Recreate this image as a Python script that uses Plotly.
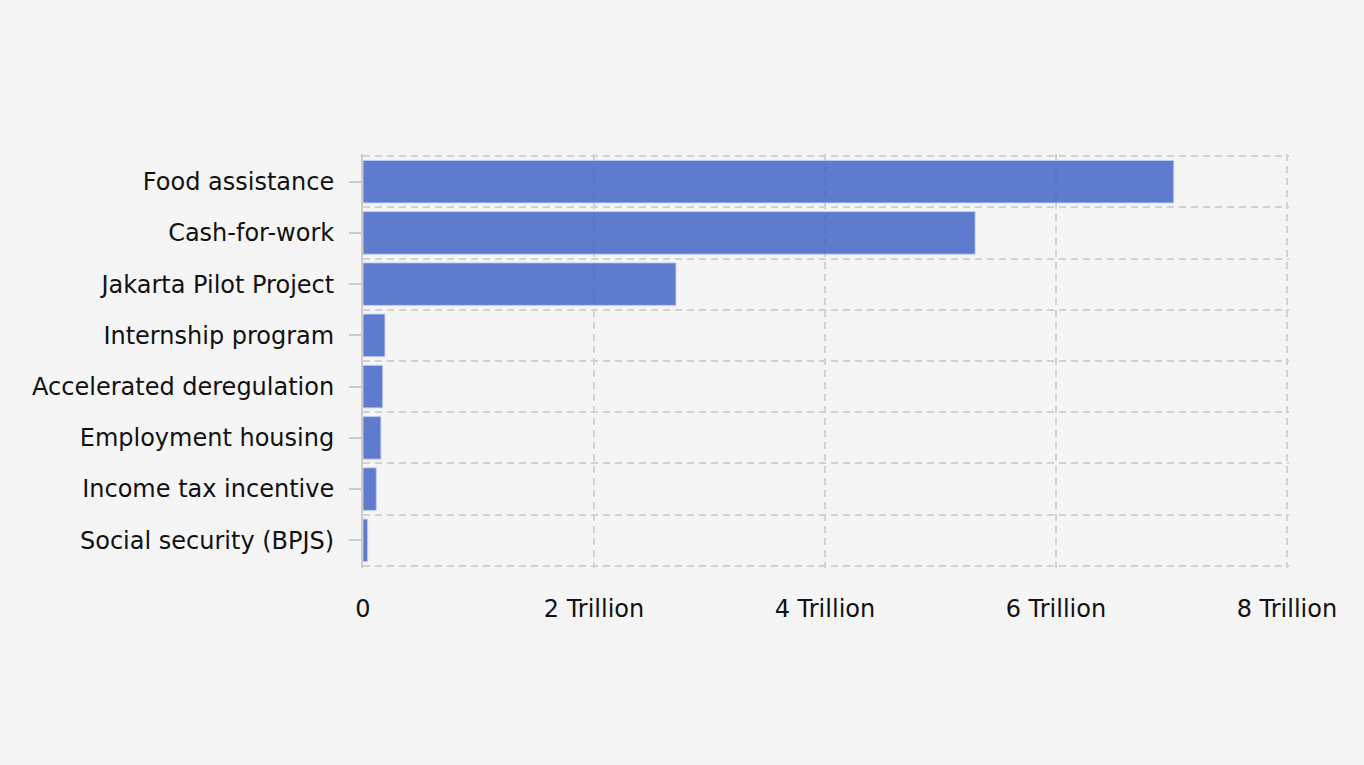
import plotly.graph_objects as go

categories = ["Food assistance", "Cash-for-work", "Jakarta Pilot Project", "Internship program",
              "Accelerated deregulation", "Employment housing", "Income tax incentive",
              "Social security (BPJS)"]
values = [7.02e12, 5.30e12, 2.71e12, 0.19e12, 0.17e12, 0.155e12, 0.115e12, 0.04e12]
x_tickvals = [0, 2e12, 4e12, 6e12, 8e12]
x_ticktext = ["0", "2 Trillion", "4 Trillion", "6 Trillion", "8 Trillion"]

n = len(categories)
ypos = list(range(n))

GRID = "#d2d2d2"
DASH = "7px,5px"

fig = go.Figure(go.Bar(
    x=values, y=ypos, orientation="h",
    marker=dict(color="rgba(58,92,196,0.8)", line=dict(color="rgba(190,205,245,0.9)", width=1)),
    width=0.83,
    hovertext=categories,
))

fig.update_layout(
    width=1364, height=765,
    paper_bgcolor="#f5f5f5", plot_bgcolor="#f5f5f5",
    margin=dict(l=363, r=75, t=154, b=197),
    font=dict(family="DejaVu Sans", size=24, color="#111"),
    showlegend=False,
)
fig.update_xaxes(
    range=[0, 8.018e12], tickvals=x_tickvals, ticktext=x_ticktext,
    showgrid=True, gridcolor=GRID, griddash=DASH, gridwidth=2,
    zeroline=False, showline=False, ticks="", ticklabelstandoff=24,
)
fig.update_yaxes(
    range=[n - 0.5 + 0.04, -0.5 - 0.04], tickvals=ypos, ticktext=categories,
    showgrid=False, zeroline=False,
    showline=True, linecolor="#cccccc", linewidth=2,
    ticks="outside", ticklen=12, tickcolor="#cccccc", tickwidth=2,
    ticklabelstandoff=10,
    minor=dict(tick0=0.5, dtick=1, showgrid=True, gridcolor=GRID, griddash=DASH,
               gridwidth=2, ticks=""),
)

fig.write_html("out.html", config={"displayModeBar": False},
               post_script="document.body.style.margin='0';")
